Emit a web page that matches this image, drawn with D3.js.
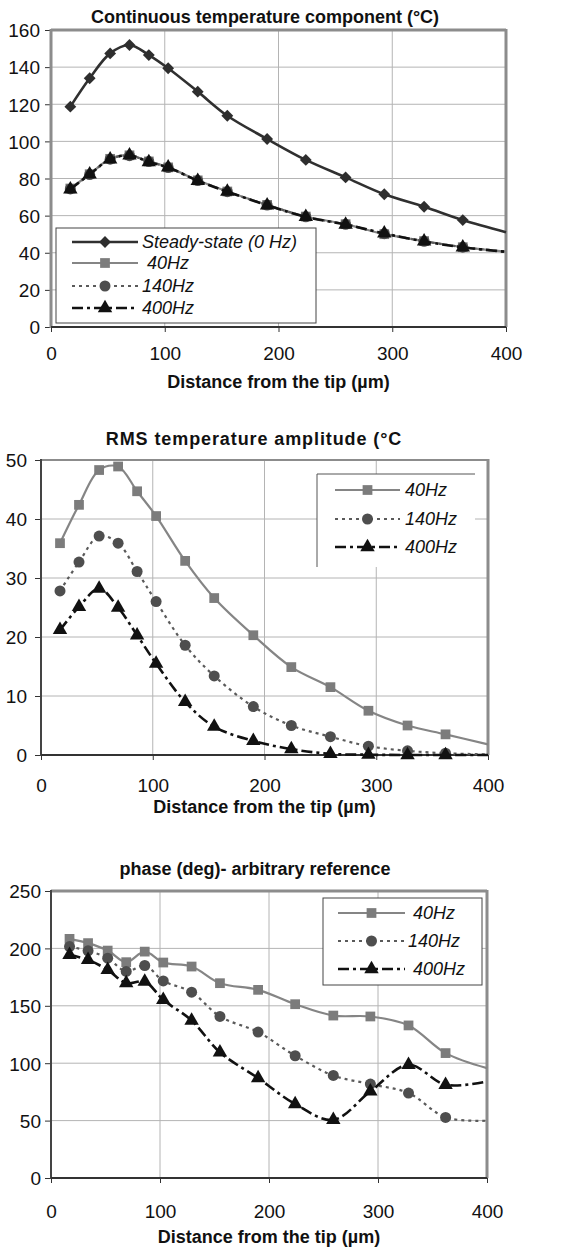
<!DOCTYPE html>
<html lang="en">
<head>
  <meta charset="UTF-8">
  <title>Tip temperature</title>
  <style>
    body { margin: 0; background: #fff; }
    svg { display: block; font-family: "Liberation Sans", Arial, sans-serif; }
    .grid line { stroke: #b4b4b4; stroke-width: 1; }
    .tick text { fill: #111; }
  </style>
</head>
<body>
  <svg id="chart" width="571" height="1249"></svg>
  <script src="https://cdn.jsdelivr.net/npm/d3@7"></script>
  <script>
    // x positions along the tip (um)
    var distance = [17, 34, 52, 69, 86, 103, 129, 155, 190, 224, 259, 293, 328, 362, 400];

    // continuous temperature component (C)
    var contSteady = [118.7, 134, 147.4, 151.9, 146.5, 139.4, 126.8, 113.8, 101.3, 90, 80.6, 71.5, 64.8, 57.6, 51];
    var cont40  = [74.6, 82.3, 90.6, 92.5, 89.2, 86, 79, 73, 65.8, 59.5, 55.4, 50, 46.3, 43, 40.6];
    var cont140 = [74.4, 82.1, 90.4, 92.3, 89.1, 85.9, 78.9, 72.9, 65.7, 59.4, 55.3, 50.3, 46.2, 43, 40.6];
    var cont400 = [74.2, 82.3, 90.3, 92.5, 88.9, 86, 78.8, 72.9, 65.6, 59.3, 55.2, 50.4, 46.1, 42.9, 40.5];

    // RMS temperature amplitude (C)
    var rms40  = [35.9, 42.4, 48.3, 48.9, 44.7, 40.5, 32.9, 26.6, 20.3, 14.9, 11.5, 7.5, 5.0, 3.5, 1.8];
    var rms140 = [27.8, 32.7, 37.1, 35.9, 31.1, 26.0, 18.6, 13.4, 8.2, 5.0, 3.1, 1.5, 0.7, 0.3, 0.1];
    var rms400 = [21.2, 25.1, 28.2, 25.0, 20.3, 15.5, 9.0, 4.8, 2.4, 1.0, 0.2, 0.05, 0, 0, 0];

    // phase (deg)
    var phase40  = [208.3, 204.6, 198.1, 188, 197.2, 187.7, 184.2, 169.7, 163.9, 151.4, 141.5, 140.7, 132.9, 108.8, 95.7];
    var phase140 = [201.6, 197.9, 191.5, 179.9, 185.1, 171.7, 161.9, 140.7, 127.1, 106.5, 89.3, 81.8, 74, 52.8, 49.9];
    var phase400 = [194.4, 190, 181.3, 169.7, 171.1, 155.2, 137.2, 109.5, 87, 64.4, 50.7, 75.4, 98.6, 81.2, 84.1];

    var xTicks = [0, 100, 200, 300, 400];
    var xTitle = 'Distance from the tip (\u00b5m)';

    var styles = {
      steady: { line: '#303030', width: 2.6, dash: null, marker: 'diamond', fill: '#2e2e2e', size: 70 },
      f40:    { line: '#858585', width: 2.2, dash: null, marker: 'square', fill: '#7c7c7c', size: 95 },
      f140:   { line: '#5a5a5a', width: 2.2, dash: '3,4', marker: 'circle', fill: '#4e4e4e', size: 95 },
      f400:   { line: '#111', width: 2.6, dash: '11,4,3,4', marker: 'triangle', fill: '#111', size: 90 }
    };
    var symbols = { diamond: d3.symbolSquare, square: d3.symbolSquare, circle: d3.symbolCircle, triangle: d3.symbolTriangle };

    var svg = d3.select('#chart');

    function markerTransform(st, px, py) {
      return 'translate(' + px + ',' + py + ')' + (st.marker === 'diamond' ? ' rotate(45)' : '');
    }

    function drawChart(o) {
      var g = svg.append('g');
      var x = d3.scaleLinear().domain([0, 400]).range([o.left, o.right]);
      var y = d3.scaleLinear().domain([0, o.ymax]).range([o.bottom, o.top]);

      // grid
      var grid = g.append('g').attr('class', 'grid');
      grid.selectAll('line.h').data(o.yTicks.filter(function(d){ return d > 0 && d < o.ymax; }))
        .enter().append('line')
        .attr('x1', o.left).attr('x2', o.right)
        .attr('y1', function(d){ return y(d); }).attr('y2', function(d){ return y(d); });
      grid.selectAll('line.v').data([100, 200, 300])
        .enter().append('line')
        .attr('y1', o.top).attr('y2', o.bottom)
        .attr('x1', function(d){ return x(d); }).attr('x2', function(d){ return x(d); });

      // axes
      var ya = g.append('g').attr('transform', 'translate(' + o.left + ',0)')
        .call(d3.axisLeft(y).tickValues(o.yTicks).tickSize(6).tickPadding(o.yPad));
      ya.select('.domain').remove();
      ya.selectAll('.tick line').attr('stroke', '#333');
      ya.selectAll('text').attr('font-size', 19).attr('dy', '0.36em');

      var xa = g.append('g').attr('transform', 'translate(0,' + o.bottom + ')')
        .call(d3.axisBottom(x).tickValues(xTicks).tickSize(5).tickPadding(0));
      xa.select('.domain').remove();
      xa.selectAll('.tick line').attr('stroke', '#333');
      xa.selectAll('text').attr('font-size', 19).attr('dy', null)
        .attr('y', o.xLabelY - o.bottom);

      // frame
      g.append('path').attr('fill', 'none').attr('stroke', '#8c8c8c').attr('stroke-width', o.topW)
        .attr('d', 'M' + o.left + ',' + o.top + 'H' + o.right);
      g.append('path').attr('fill', 'none').attr('stroke', '#8c8c8c').attr('stroke-width', 3)
        .attr('d', 'M' + o.right + ',' + (o.top - 1) + 'V' + o.bottom);
      g.append('path').attr('fill', 'none').attr('stroke', o.leftColor).attr('stroke-width', o.leftW)
        .attr('d', 'M' + o.left + ',' + (o.top - 1) + 'V' + (o.bottom + 1));
      g.append('path').attr('fill', 'none').attr('stroke', '#333').attr('stroke-width', 2)
        .attr('d', 'M' + o.left + ',' + o.bottom + 'H' + o.right);

      // series
      var line = d3.line()
        .x(function(d){ return x(d[0]); })
        .y(function(d){ return y(d[1]); })
        .curve(d3.curveCatmullRom.alpha(0.5));

      o.series.forEach(function(s) {
        var st = styles[s.style];
        var pts = distance.map(function(d, i){ return [d, s.values[i]]; });
        g.append('path').datum(pts)
          .attr('fill', 'none')
          .attr('stroke', st.line)
          .attr('stroke-width', st.width)
          .attr('stroke-dasharray', st.dash)
          .attr('d', line);
        g.selectAll(null).data(pts.slice(0, pts.length - 1)).enter().append('path')
          .attr('transform', function(d){ return markerTransform(st, x(d[0]), y(d[1])); })
          .attr('fill', st.fill)
          .attr('d', d3.symbol().type(symbols[st.marker]).size(st.size));
      });

      // legend
      var L = o.legend;
      var lg = g.append('g');
      lg.append('rect').attr('x', L.x).attr('y', L.y).attr('width', L.w).attr('height', L.h)
        .attr('fill', '#fff').attr('stroke', L.open ? 'none' : '#444').attr('stroke-width', 1);
      if (L.open) {
        lg.append('path').attr('fill', 'none').attr('stroke', '#555').attr('stroke-width', 1)
          .attr('d', 'M' + L.x + ',' + (L.y + L.h) + 'V' + L.y + 'H' + (L.x + L.w));
      }
      o.series.forEach(function(s, i) {
        var st = styles[s.style];
        var ly = L.rows[i];
        lg.append('line').attr('x1', L.sx1).attr('x2', L.sx2).attr('y1', ly).attr('y2', ly)
          .attr('stroke', st.line).attr('stroke-width', st.width).attr('stroke-dasharray', st.dash);
        lg.append('path').attr('transform', markerTransform(st, (L.sx1 + L.sx2) / 2, ly))
          .attr('fill', st.fill).attr('d', d3.symbol().type(symbols[st.marker]).size(st.size));
        lg.append('text').attr('x', L.tx + (s.shift || 0)).attr('y', ly + 6)
          .attr('font-size', 18).attr('font-style', 'italic').attr('fill', '#111')
          .text(s.name);
      });

      // titles
      g.append('text').attr('x', o.titleX).attr('y', o.titleY).attr('text-anchor', 'middle')
        .attr('font-size', 18).attr('font-weight', 'bold').attr('fill', '#111')
        .attr('letter-spacing', o.titleSpacing || 0)
        .text(o.title);
      g.append('text').attr('x', (o.left + o.right) / 2 + o.xTitleShift).attr('y', o.xTitleY)
        .attr('text-anchor', 'middle').attr('font-size', 18).attr('font-weight', 'bold').attr('fill', '#111')
        .text(xTitle);
    }

    drawChart({
      left: 51, right: 506, top: 30, bottom: 327, ymax: 160,
      yTicks: d3.range(0, 161, 20), yPad: 5,
      xLabelY: 360, xTitleY: 388, xTitleShift: 0,
      title: 'Continuous temperature component (\u00b0C)', titleX: 265, titleY: 23,
      topW: 3, leftW: 3, leftColor: '#8c8c8c',
      series: [
        { name: 'Steady-state (0 Hz)', style: 'steady', values: contSteady },
        { name: '40Hz', style: 'f40', values: cont40, shift: 5 },
        { name: '140Hz', style: 'f140', values: cont140 },
        { name: '400Hz', style: 'f400', values: cont400 }
      ],
      legend: { x: 56, y: 228, w: 260, h: 95, rows: [242, 263, 286, 308], sx1: 72, sx2: 138, tx: 142 }
    });

    drawChart({
      left: 41, right: 488, top: 460, bottom: 755, ymax: 50,
      yTicks: d3.range(0, 51, 10), yPad: 8,
      xLabelY: 792, xTitleY: 813, xTitleShift: 0,
      title: 'RMS temperature amplitude (\u00b0C', titleX: 254, titleY: 445, titleSpacing: 0.9,
      topW: 2, leftW: 2, leftColor: '#444',
      series: [
        { name: '40Hz', style: 'f40', values: rms40 },
        { name: '140Hz', style: 'f140', values: rms140 },
        { name: '400Hz', style: 'f400', values: rms400 }
      ],
      legend: { x: 317, y: 474, w: 158, h: 93, open: true, rows: [490, 519, 547], sx1: 335, sx2: 400, tx: 405 }
    });

    drawChart({
      left: 51, right: 487, top: 891, bottom: 1178, ymax: 250,
      yTicks: d3.range(0, 251, 50), yPad: 4,
      xLabelY: 1218, xTitleY: 1243, xTitleShift: 0,
      title: 'phase (deg)- arbitrary reference', titleX: 255, titleY: 875,
      topW: 3, leftW: 2, leftColor: '#444',
      series: [
        { name: '40Hz', style: 'f40', values: phase40, shift: 5 },
        { name: '140Hz', style: 'f140', values: phase140 },
        { name: '400Hz', style: 'f400', values: phase400, shift: 5 }
      ],
      legend: { x: 323, y: 898, w: 159, h: 87, rows: [913, 941, 969], sx1: 338, sx2: 405, tx: 408 }
    });
  </script>
</body>
</html>
